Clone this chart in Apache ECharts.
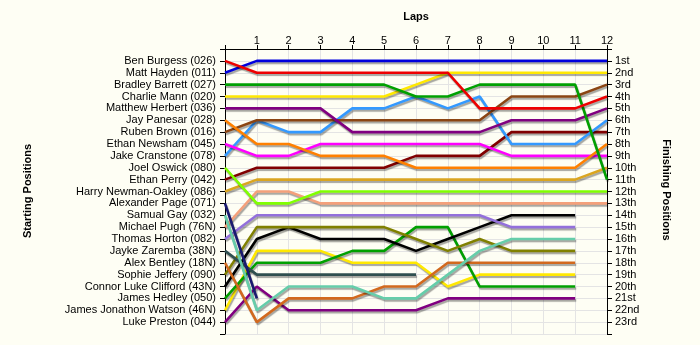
<!DOCTYPE html>
<html>
<head>
<meta charset="utf-8">
<script src="https://cdn.jsdelivr.net/npm/echarts@6/dist/echarts.min.js"></script>
<style>
html,body{margin:0;padding:0;background:#fefef4;}
#chart{width:700px;height:345px;}
</style>
</head>
<body>
<div id="chart"></div>
<script>
// Lap numbers
var laps = [0,1,2,3,4,5,6,7,8,9,10,11,12];
// Starting grid (left labels)
var startNames = [
  'Ben Burgess (026)','Matt Hayden (011)','Bradley Barrett (027)','Charlie Mann (020)',
  'Matthew Herbert (036)','Jay Panesar (028)','Ruben Brown (016)','Ethan Newsham (045)',
  'Jake Cranstone (078)','Joel Oswick (080)','Ethan Perry (042)','Harry Newman-Oakley (086)',
  'Alexander Page (071)','Samual Gay (032)','Michael Pugh (76N)','Thomas Horton (082)',
  'Jayke Zaremba (38N)','Alex Bentley (18N)','Sophie Jeffery (090)','Connor Luke Clifford (43N)',
  'James Hedley (050)','James Jonathon Watson (46N)','Luke Preston (044)'
];
// Finishing position labels (right)
var finishLabels = ['1st','2nd','3rd','4th','5th','6th','7th','8th','9th','10th','11th','12th',
  '13th','14th','15th','16th','17th','18th','19th','20th','21st','22nd','23rd'];

// Position of each driver per lap (index = lap)
var benBurgess      = [1,2,2,2,2,2,2,2,5,5,5,5,4];
var mattHayden      = [2,1,1,1,1,1,1,1,1,1,1,1,1];
var bradleyBarrett  = [3,3,3,3,3,3,4,4,3,3,3,3,11];
var charlieMann     = [4,4,4,4,4,4,3,2,2,2,2,2,2];
var matthewHerbert  = [5,5,5,5,7,7,7,7,7,6,6,6,5];
var jayPanesar      = [6,8,8,9,9,9,10,10,10,10,10,10,8];
var rubenBrown      = [7,6,6,6,6,6,6,6,6,4,4,4,3];
var ethanNewsham    = [8,9,9,8,8,8,8,8,8,9,9,9,9];
var jakeCranstone   = [9,6,7,7,5,5,4,5,4,8,8,8,6];
var joelOswick      = [10,13,13,12,12,12,12,12,12,12,12,12,12];
var ethanPerry      = [11,10,10,10,10,10,9,9,9,7,7,7,7];
var harryNewmanOakley = [12,11,11,11,11,11,11,11,11,11,11,11,10];
var alexanderPage   = [13,21];
var samualGay       = [14,22,20,20,20,21,21,19,17,16,16,16];
var michaelPugh     = [15,12,12,13,13,13,13,13,13,13,13,13,13];
var thomasHorton    = [16,14,14,14,14,14,14,14,14,15,15,15];
var jaykeZaremba    = [17,19,19,19,19,19,19];
var alexBentley     = [18,23,21,21,21,20,20,18,18,18,18,18];
var sophieJeffery   = [19,15,15,15,15,15,16,17,16,17,17,17];
var connorLukeClifford = [20,16,15,16,16,16,17,16,15,14,14,14];
var jamesHedley     = [21,18,18,18,17,17,15,15,20,20,20,20];
var jamesJonathonWatson = [22,17,17,17,18,18,18,20,19,19,19,19];
var lukePreston     = [23,20,22,22,22,22,22,21,21,21,21,21];

var driverPositions = [benBurgess,mattHayden,bradleyBarrett,charlieMann,matthewHerbert,jayPanesar,
  rubenBrown,ethanNewsham,jakeCranstone,joelOswick,ethanPerry,harryNewmanOakley,alexanderPage,
  samualGay,michaelPugh,thomasHorton,jaykeZaremba,alexBentley,sophieJeffery,connorLukeClifford,
  jamesHedley,jamesJonathonWatson,lukePreston];

var colors = ['#ee0000','#0000dd','#00a000','#ffe800','#800080','#ff8000','#8b4513','#ff00ff',
  '#3399ff','#80ff00','#800000','#daa520','#191970','#66cdaa','#f4a07a','#9370db','#2f4f4f',
  '#d2691e','#808000','#000000','#00a000','#ffe800','#800080'];

var FONT = '"Liberation Sans", Arial, sans-serif';

var series = driverPositions.map(function(pos, i){
  return {
    name: startNames[i],
    type: 'line',
    xAxisIndex: 0,
    yAxisIndex: 0,
    data: pos.map(function(p, lap){ return [laps[lap], p]; }),
    showSymbol: false,
    symbol: 'none',
    lineStyle: {
      color: colors[i], width: 2.6,
      shadowColor: 'rgba(0,0,0,0.35)', shadowBlur: 1, shadowOffsetX: 1, shadowOffsetY: 2
    },
    itemStyle: {color: colors[i]},
    z: 2 + (23 - i) * 0.01,
    silent: true
  };
});

var chart = echarts.init(document.getElementById('chart'), null, {renderer: 'canvas'});
chart.setOption({
  animation: false,
  backgroundColor: '#fefef4',
  grid: {left: 225, top: 49, right: 93, bottom: 11, containLabel: false},
  xAxis: {
    type: 'value', position: 'top', min: 0, max: 12, interval: 1,
    axisLine: {show: true, onZero: false, lineStyle: {color: '#000', width: 1}},
    axisTick: {show: true, length: 4, lineStyle: {color: '#000'}},
    axisLabel: {
      fontFamily: FONT, fontSize: 11, color: '#000', margin: 3,
      formatter: function(v){ return v === 0 ? '' : String(v); }
    },
    splitLine: {show: true, lineStyle: {color: '#e4e4e4', width: 1}}
  },
  yAxis: [{
    type: 'value', position: 'left', min: 0, max: 24, interval: 1, inverse: true,
    axisLine: {show: true, onZero: false, lineStyle: {color: '#000', width: 1}},
    axisTick: {show: true, length: 5, lineStyle: {color: '#000'}},
    axisLabel: {
      fontFamily: FONT, fontSize: 11, color: '#000', margin: 9,
      formatter: function(v){ return startNames[v - 1] || ''; }
    },
    splitLine: {show: true, lineStyle: {color: '#e4e4e4', width: 1}}
  }, {
    type: 'value', position: 'right', min: 0, max: 24, interval: 1, inverse: true,
    axisLine: {show: true, onZero: false, lineStyle: {color: '#000', width: 1}},
    axisTick: {show: true, length: 5, lineStyle: {color: '#000'}},
    axisLabel: {
      fontFamily: FONT, fontSize: 11, color: '#000', margin: 8,
      formatter: function(v){ return finishLabels[v - 1] || ''; }
    },
    splitLine: {show: false}
  }],
  graphic: [
    {type: 'text', x: 416, y: 17, style: {text: 'Laps', fontFamily: FONT, fontSize: 11, fontWeight: 'bold',
      fill: '#000', textAlign: 'center', textVerticalAlign: 'middle'}},
    {type: 'text', x: 28, y: 191, rotation: Math.PI / 2, style: {text: 'Starting Positions', fontFamily: FONT,
      fontSize: 11, fontWeight: 'bold', fill: '#000', textAlign: 'center', textVerticalAlign: 'middle'}},
    {type: 'text', x: 666, y: 190, rotation: -Math.PI / 2, style: {text: 'Finishing Positions', fontFamily: FONT,
      fontSize: 11, fontWeight: 'bold', fill: '#000', textAlign: 'center', textVerticalAlign: 'middle'}}
  ],
  series: series
});
</script>
</body>
</html>
